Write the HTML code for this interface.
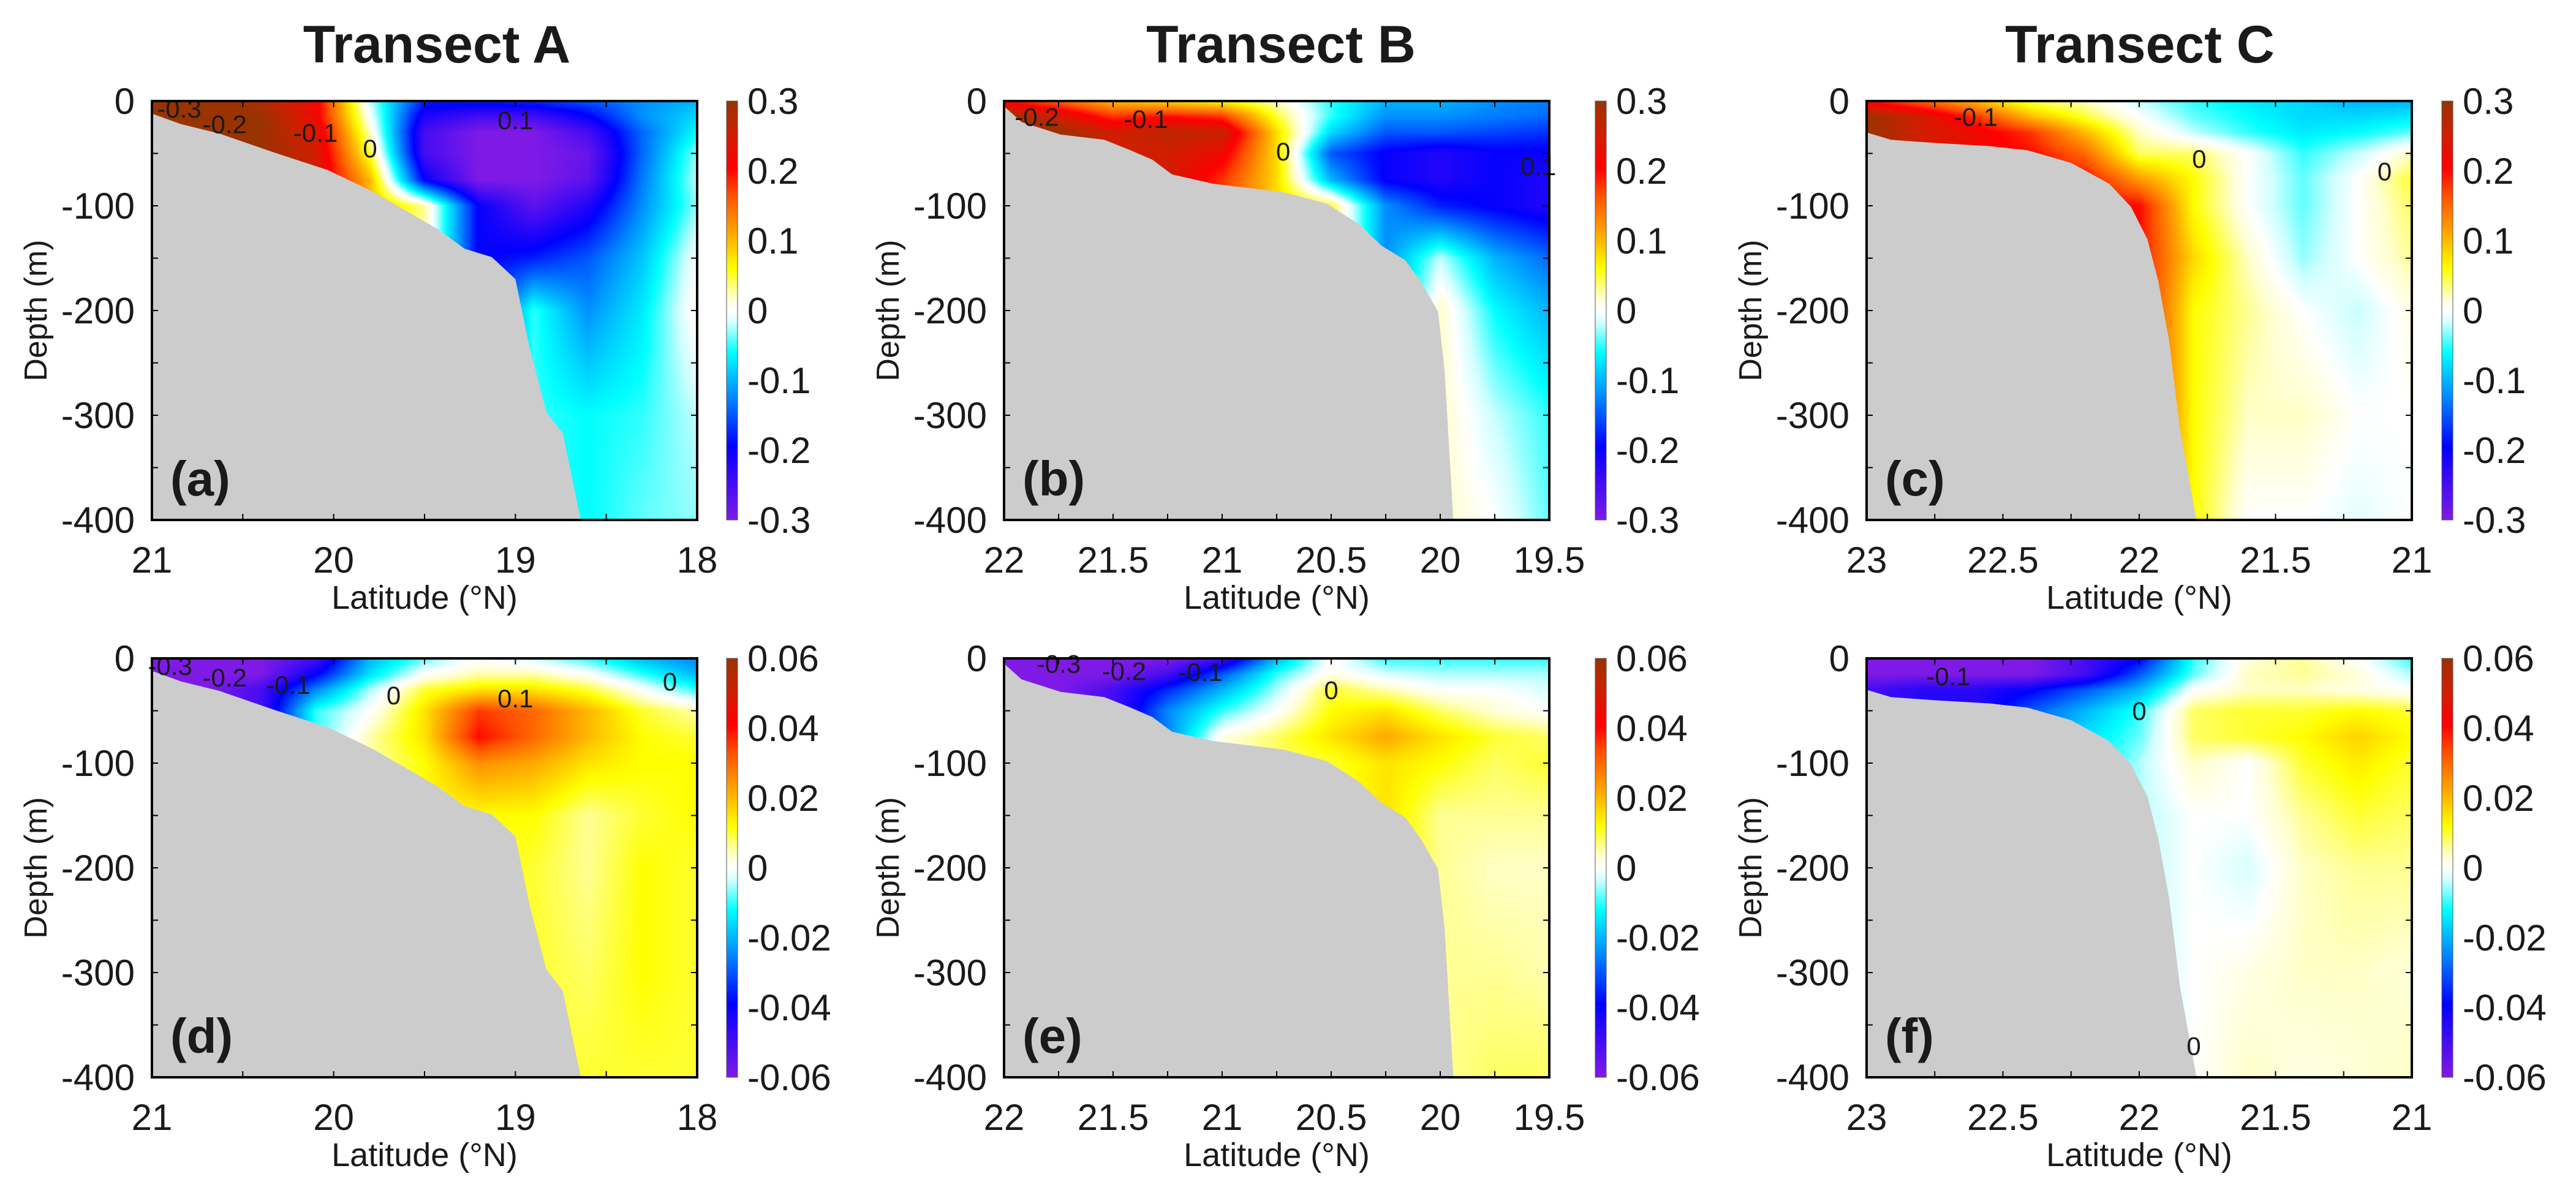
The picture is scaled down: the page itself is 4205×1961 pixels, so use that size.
<!DOCTYPE html>
<html><head><meta charset="utf-8"><title>Transects</title>
<style>
html,body{margin:0;padding:0;background:#fff;}
#wrap{position:relative;width:4205px;height:1961px;overflow:hidden;background:#fff;}
canvas{position:absolute;}
svg{position:absolute;left:0;top:0;}
text{font-family:"Liberation Sans",Arial,sans-serif;fill:#1a1a1a;}
</style></head>
<body>
<div id="wrap">
<svg id="svg" width="4205" height="1961"></svg>
</div>
<script>
// ---- data ----
const depths = [0,-15,-30,-50,-75,-100,-150,-200,-300,-400];
const latsA = [21,20.7,20.4,20.1,19.8,19.5,19.2,18.9,18.6,18.3,18.0];
const latsB = [22,21.75,21.5,21.25,21,20.75,20.5,20.25,20,19.75,19.5];
const latsC = [23,22.8,22.6,22.4,22.2,22,21.8,21.6,21.4,21.2,21];
const n=null;
const fieldA = [
[0.3,0.3,0.28,0.22,-0.02,-0.18,-0.18,-0.17,-0.15,-0.12,-0.1],
[0.3,0.3,0.3,0.22,0.0,-0.22,-0.25,-0.25,-0.2,-0.12,-0.08],
[0.3,0.3,0.3,0.24,0.02,-0.25,-0.3,-0.3,-0.25,-0.14,-0.06],
[n,0.3,0.3,0.25,0.05,-0.25,-0.3,-0.3,-0.28,-0.14,-0.03],
[n,n,n,0.25,0.1,-0.2,-0.3,-0.3,-0.27,-0.13,-0.02],
[n,n,n,n,0.1,0.03,-0.2,-0.27,-0.22,-0.12,-0.03],
[n,n,n,n,n,n,n,-0.18,-0.15,-0.09,0.0],
[n,n,n,n,n,n,n,-0.05,-0.12,-0.07,0.01],
[n,n,n,n,n,n,n,n,-0.06,-0.05,-0.02],
[n,n,n,n,n,n,n,n,-0.06,-0.04,-0.03]];
const fieldB = [
[0.2,0.15,0.1,0.08,0.06,0.02,-0.05,-0.1,-0.1,-0.12,-0.13],
[0.3,0.25,0.18,0.2,0.18,0.05,-0.05,-0.12,-0.12,-0.13,-0.14],
[n,0.3,0.25,0.27,0.26,0.08,-0.08,-0.15,-0.15,-0.16,-0.17],
[n,n,n,0.25,0.22,0.08,-0.15,-0.2,-0.22,-0.2,-0.2],
[n,n,n,n,0.18,0.08,-0.1,-0.2,-0.22,-0.2,-0.22],
[n,n,n,n,n,n,0.05,-0.12,-0.18,-0.2,-0.22],
[n,n,n,n,n,n,n,n,-0.02,-0.1,-0.14],
[n,n,n,n,n,n,n,n,0.02,-0.06,-0.1],
[n,n,n,n,n,n,n,n,n,-0.02,-0.05],
[n,n,n,n,n,n,n,n,n,0.0,-0.04]];
const fieldC = [
[0.2,0.15,0.1,0.04,0.02,-0.02,-0.05,-0.07,-0.08,-0.1,-0.1],
[0.3,0.25,0.18,0.1,0.05,0.0,-0.04,-0.06,-0.08,-0.08,-0.07],
[0.3,0.25,0.22,0.18,0.1,0.02,-0.02,-0.05,-0.07,-0.06,-0.04],
[n,n,n,0.2,0.15,0.04,0.04,0.0,-0.05,-0.02,0.02],
[n,n,n,n,0.2,0.12,0.06,0.0,-0.04,0.0,0.05],
[n,n,n,n,n,0.2,0.06,0.0,-0.04,0.0,0.04],
[n,n,n,n,n,n,0.08,0.02,-0.03,0.0,0.03],
[n,n,n,n,n,n,0.06,0.03,0.0,-0.02,0.01],
[n,n,n,n,n,n,0.06,0.02,0.02,0.0,0.0],
[n,n,n,n,n,n,n,0.0,0.0,-0.01,0.0]];
const fieldD = [
[-0.06,-0.06,-0.06,-0.05,-0.02,-0.008,0.0,-0.004,-0.01,-0.02,-0.025],
[-0.06,-0.06,-0.06,-0.04,-0.015,0.0,0.005,0.005,0.0,-0.01,-0.02],
[n,-0.06,-0.05,-0.025,-0.005,0.01,0.015,0.015,0.01,0.0,-0.01],
[n,n,n,-0.01,0.0,0.015,0.035,0.03,0.02,0.01,0.005],
[n,n,n,n,0.005,0.015,0.04,0.03,0.02,0.012,0.01],
[n,n,n,n,n,0.012,0.025,0.022,0.015,0.012,0.012],
[n,n,n,n,n,n,0.012,0.012,0.006,0.01,0.012],
[n,n,n,n,n,n,n,0.01,0.006,0.012,0.01],
[n,n,n,n,n,n,n,n,0.008,0.012,0.01],
[n,n,n,n,n,n,n,n,0.01,0.01,0.01]];
const fieldE = [
[-0.06,-0.06,-0.06,-0.06,-0.05,-0.02,0.0,-0.01,-0.01,-0.01,-0.01],
[-0.06,-0.06,-0.06,-0.05,-0.03,-0.01,0.002,-0.003,-0.005,-0.005,-0.005],
[n,-0.06,-0.05,-0.035,-0.02,-0.005,0.01,0.005,0.0,0.0,-0.003],
[n,n,n,-0.025,-0.01,0.0,0.012,0.015,0.008,0.003,0.0],
[n,n,n,n,0.002,0.008,0.015,0.022,0.015,0.01,0.008],
[n,n,n,n,n,n,0.01,0.015,0.012,0.008,0.01],
[n,n,n,n,n,n,n,n,0.006,0.006,0.006],
[n,n,n,n,n,n,n,n,0.006,0.004,0.004],
[n,n,n,n,n,n,n,n,n,0.006,0.005],
[n,n,n,n,n,n,n,n,n,0.008,0.008]];
const fieldF = [
[-0.06,-0.06,-0.06,-0.06,-0.05,-0.04,-0.01,0.003,0.006,0.0,-0.01],
[-0.06,-0.06,-0.06,-0.06,-0.05,-0.03,-0.008,0.004,0.006,0.003,-0.005],
[-0.05,-0.045,-0.045,-0.04,-0.03,-0.02,0.0,0.004,0.004,0.002,0.0],
[n,n,n,-0.03,-0.02,-0.01,0.008,0.01,0.01,0.012,0.01],
[n,n,n,n,-0.015,-0.008,0.008,0.01,0.012,0.017,0.012],
[n,n,n,n,n,-0.005,0.004,0.0,0.01,0.014,0.01],
[n,n,n,n,n,n,0.0,0.0,0.006,0.01,0.008],
[n,n,n,n,n,n,0.0,-0.003,0.004,0.006,0.006],
[n,n,n,n,n,n,0.0,0.002,0.004,0.004,0.003],
[n,n,n,n,n,n,n,0.004,0.002,0.003,0.004]];
const topoA = [[21,-12],[20.84,-22],[20.63,-31],[20.33,-49],[20.03,-66],[19.79,-86],[19.61,-104],[19.43,-122],[19.28,-141],[19.13,-149],[19.0,-170],[18.92,-237],[18.83,-297],[18.74,-317],[18.64,-400]];
const topoB = [[22,-5],[21.92,-20],[21.74,-32],[21.54,-37],[21.42,-47],[21.32,-56],[21.23,-70],[21.04,-79],[20.72,-87],[20.52,-98],[20.37,-118],[20.27,-138],[20.16,-152],[20.09,-172],[20.01,-201],[19.98,-257],[19.94,-400]];
const topoC = [[23,-30],[22.91,-37],[22.75,-40],[22.55,-43],[22.41,-47],[22.25,-59],[22.11,-79],[22.03,-101],[21.97,-132],[21.93,-172],[21.89,-229],[21.85,-314],[21.79,-400]];
const ticksXA = [21,20,19,18];
const ticksXB = [22,21.5,21,20.5,20,19.5];
const ticksXC = [23,22.5,22,21.5,21];
const ticksY = [0,-100,-200,-300,-400];
const cbTicksTop = [0.3,0.2,0.1,0,-0.1,-0.2,-0.3];
const cbTicksBot = [0.06,0.04,0.02,0,-0.02,-0.04,-0.06];
const cmapT = [-1,-0.8,-0.65,-0.4,-0.2,-0.06,0,0.06,0.2,0.35,0.55,0.68,0.85,1];
const cmapC = ['#7f1ae6','#3a0af5','#0000ff','#0090ff','#00ffff','#d0ffff','#ffffff','#ffffd0','#ffff00','#ffb000','#ff5000','#ff0000','#cc2000','#993300'];
const labelsA = [["-0.3",20.85,-7],["-0.2",20.6,-22],["-0.1",20.1,-30],["0",19.8,-45],["0.1",19.0,-18]];
const labelsB = [["-0.2",21.85,-15],["-0.1",21.35,-17],["0",20.72,-48],["0.1",19.55,-62]];
const labelsC = [["-0.1",22.6,-15],["0",21.78,-55],["0",21.1,-67]];
const labelsD = [["-0.3",20.9,-7],["-0.2",20.6,-18],["-0.1",20.25,-25],["0",19.67,-35],["0.1",19.0,-38],["0",18.15,-22]];
const labelsE = [["-0.3",21.75,-5],["-0.2",21.45,-12],["-0.1",21.1,-13],["0",20.5,-30]];
const labelsF = [["-0.1",22.7,-17],["0",22.0,-50],["0",21.8,-370]];

const panels = [
 {id:'a',title:'Transect A',tx:713,x:248,y:165,cbx:1186,lats:latsA,f:fieldA,topo:topoA,xt:ticksXA,minor:0.5,sc:0.3,cb:cbTicksTop,lab:labelsA,title_on:true},
 {id:'b',title:'Transect B',tx:2091,x:1639,y:165,cbx:2604,lats:latsB,f:fieldB,topo:topoB,xt:ticksXB,minor:0.25,sc:0.3,cb:cbTicksTop,lab:labelsB,title_on:true},
 {id:'c',title:'Transect C',tx:3493,x:3047,y:165,cbx:3986,lats:latsC,f:fieldC,topo:topoC,xt:ticksXC,minor:0.25,sc:0.3,cb:cbTicksTop,lab:labelsC,title_on:true},
 {id:'d',x:248,y:1075,cbx:1186,lats:latsA,f:fieldD,topo:topoA,xt:ticksXA,minor:0.5,sc:0.06,cb:cbTicksBot,lab:labelsD},
 {id:'e',x:1639,y:1075,cbx:2604,lats:latsB,f:fieldE,topo:topoB,xt:ticksXB,minor:0.25,sc:0.06,cb:cbTicksBot,lab:labelsE},
 {id:'f',x:3047,y:1075,cbx:3986,lats:latsC,f:fieldF,topo:topoC,xt:ticksXC,minor:0.25,sc:0.06,cb:cbTicksBot,lab:labelsF}
];
const W=890,H=684;
const NS='http://www.w3.org/2000/svg';
const svg=document.getElementById('svg');
const wrap=document.getElementById('wrap');
function el(tag,attrs,parent){const e=document.createElementNS(NS,tag);for(const k in attrs)e.setAttribute(k,attrs[k]);(parent||svg).appendChild(e);return e;}
function hex(c){return [parseInt(c.substr(1,2),16),parseInt(c.substr(3,2),16),parseInt(c.substr(5,2),16)];}
const cmapRGB=cmapC.map(hex);
function cmap(t){t=Math.max(-1,Math.min(1,t));for(let i=0;i<cmapT.length-1;i++){if(t<=cmapT[i+1]){const u=(t-cmapT[i])/(cmapT[i+1]-cmapT[i]);const a=cmapRGB[i],b=cmapRGB[i+1];return [a[0]+(b[0]-a[0])*u,a[1]+(b[1]-a[1])*u,a[2]+(b[2]-a[2])*u];}}return cmapRGB[cmapRGB.length-1];}
function fillGrid(f){const g=f.map(r=>r.slice());for(let i=0;i<g.length;i++)for(let j=0;j<g[i].length;j++){if(g[i][j]===null){if(i>0)g[i][j]=g[i-1][j];else{let k=j;while(k<g[i].length&&g[i][k]===null)k++;g[i][j]=g[i][k];}}}return g;}
function fracIndex(arr,v){for(let i=0;i<arr.length-1;i++){const a=arr[i],b=arr[i+1];if((v-a)*(v-b)<=0){return i+(v-a)/(b-a);}}return v<arr[arr.length-1]===(arr[0]>arr[arr.length-1])?arr.length-1:0;}

panels.forEach(p=>{
 const lat0=p.lats[0],lat1=p.lats[p.lats.length-1];
 const sx=lat=>p.x+(lat0-lat)/(lat0-lat1)*W;
 const sy=d=>p.y+(-d)/400*H;
 const cv=document.createElement('canvas');cv.width=W;cv.height=H;cv.style.left=p.x+'px';cv.style.top=p.y+'px';
 
 
 wrap.insertBefore(cv,svg);
 const ctx=cv.getContext('2d');const img=ctx.createImageData(W,H);const g=fillGrid(p.f);
 const colIdx=[];for(let x=0;x<W;x++){colIdx.push(fracIndex(p.lats,lat0+(x+0.5)/W*(lat1-lat0)));}
 for(let y=0;y<H;y++){const d=-(y+0.5)/H*400;const ri=fracIndex(depths,d);const r0=Math.min(Math.floor(ri),depths.length-2),ru=ri-r0;
  for(let x=0;x<W;x++){const ci=colIdx[x];const c0=Math.min(Math.floor(ci),p.lats.length-2),cu=ci-c0;
   const v=(g[r0][c0]*(1-cu)+g[r0][c0+1]*cu)*(1-ru)+(g[r0+1][c0]*(1-cu)+g[r0+1][c0+1]*cu)*ru;
   const c=cmap(v/p.sc);const k=(y*W+x)*4;img.data[k]=c[0];img.data[k+1]=c[1];img.data[k+2]=c[2];img.data[k+3]=255;}}
 ctx.putImageData(img,0,0);
 let pts=p.topo.map(t=>sx(t[0]).toFixed(1)+','+sy(t[1]).toFixed(1));
 pts.push(p.x+','+(p.y+H));
 const topo=el('polygon',{points:pts.join(' '),fill:'#cccccc'});
 
 
 p.lab.forEach(l=>{const t=el('text',{x:sx(l[1]),y:sy(l[2])+15,'font-size':42,'text-anchor':'middle'});t.textContent=l[0];
  
  });
 const fr=el('rect',{x:p.x,y:p.y,width:W,height:H,fill:'none',stroke:'#000','stroke-width':4});
 
 
 for(let lat=Math.max(lat0,lat1);lat>=Math.min(lat0,lat1)-1e-9;lat-=p.minor){const X=sx(lat);
  el('line',{x1:X,y1:p.y+H,x2:X,y2:p.y+H-10,stroke:'#000','stroke-width':2});
  el('line',{x1:X,y1:p.y,x2:X,y2:p.y+10,stroke:'#000','stroke-width':2});}
 p.xt.forEach(v=>{const t=el('text',{x:sx(v),y:p.y+H+86,'font-size':60,'text-anchor':'middle'});t.textContent=String(v);
  
  });
 for(let d=0;d>=-400;d-=50){const Y=sy(d);
  el('line',{x1:p.x,y1:Y,x2:p.x+10,y2:Y,stroke:'#000','stroke-width':2});
  el('line',{x1:p.x+W,y1:Y,x2:p.x+W-10,y2:Y,stroke:'#000','stroke-width':2});}
 ticksY.forEach(v=>{const t=el('text',{x:p.x-28,y:sy(v)+21,'font-size':60,'text-anchor':'end'});t.textContent=String(v);
  
  });
 const xl=el('text',{x:p.x+W/2,y:p.y+H+145,'font-size':54,'text-anchor':'middle'});xl.textContent='Latitude (°N)';
 
 
 const yl=el('text',{x:0,y:0,'font-size':52,'text-anchor':'middle',transform:'translate('+(p.x-172)+','+(p.y+H/2)+') rotate(-90)'});yl.textContent='Depth (m)';
 
 
 const pl=el('text',{x:p.x+30,y:p.y+H-40,'font-size':80,'font-weight':'bold'});pl.textContent='('+p.id+')';
 
 
 if(p.title_on){const tt=el('text',{x:p.tx,y:102,'font-size':86,'font-weight':'bold','text-anchor':'middle'});tt.textContent=p.title;
  
  }
 const gid='grad'+p.id;const gr=el('linearGradient',{id:gid,x1:0,y1:1,x2:0,y2:0});
 cmapT.forEach((t,i)=>el('stop',{offset:((t+1)/2*100).toFixed(2)+'%','stop-color':cmapC[i]},gr));
 const cb=el('rect',{x:p.cbx,y:p.y,width:18,height:H,fill:'url(#'+gid+')',stroke:'#555','stroke-width':1});
 
 
 p.cb.forEach(v=>{const Y=p.y+(p.sc-v)/(2*p.sc)*H;const t=el('text',{x:p.cbx+34,y:Y+21,'font-size':60});t.textContent=String(v);
  
  });
});
</script>
</body></html>
